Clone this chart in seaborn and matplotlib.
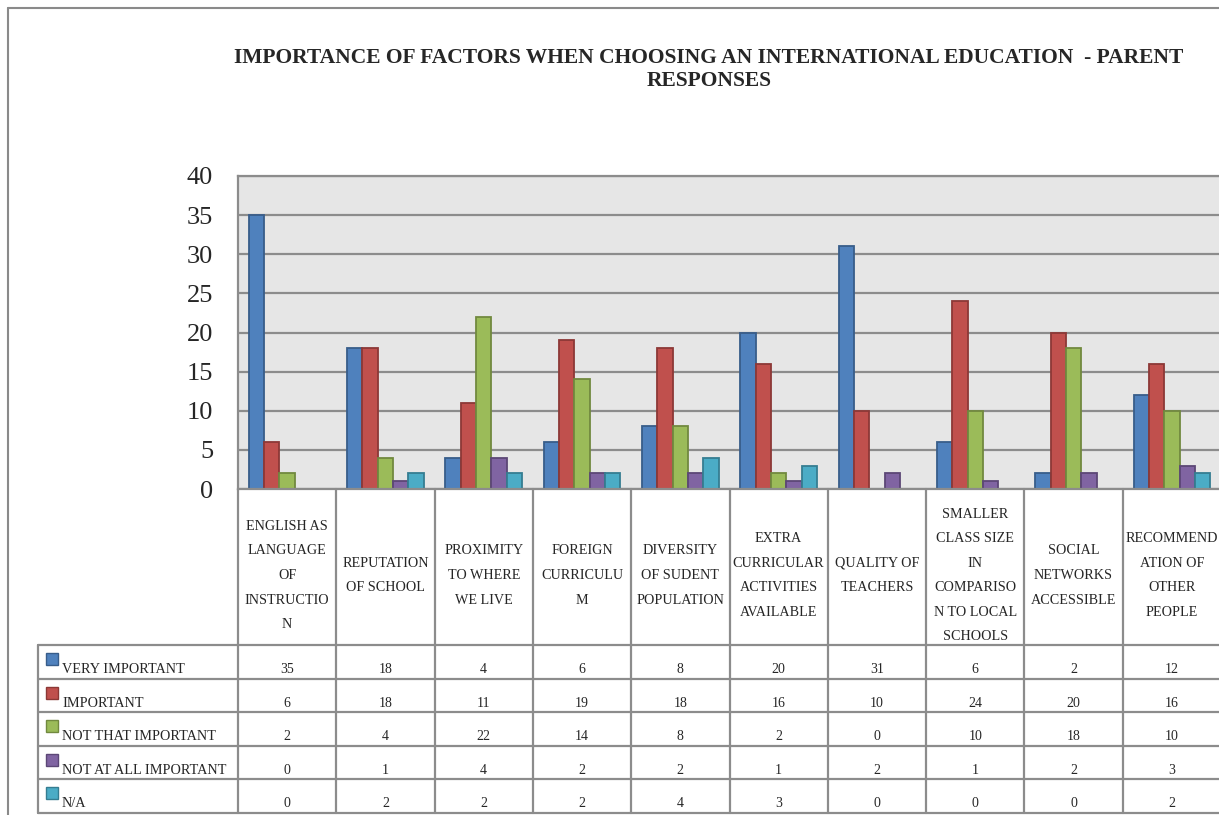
import pandas as pd
import matplotlib.pyplot as plt
import seaborn as sns

# chart data
factors = [
    "ENGLISH AS\nLANGUAGE\nOF\nINSTRUCTIO\nN",
    "REPUTATION\nOF SCHOOL",
    "PROXIMITY\nTO WHERE\nWE LIVE",
    "FOREIGN\nCURRICULU\nM",
    "DIVERSITY\nOF SUDENT\nPOPULATION",
    "EXTRA\nCURRICULAR\nACTIVITIES\nAVAILABLE",
    "QUALITY OF\nTEACHERS",
    "SMALLER\nCLASS SIZE\nIN\nCOMPARISO\nN TO LOCAL\nSCHOOLS",
    "SOCIAL\nNETWORKS\nACCESSIBLE",
    "RECOMMEND\nATION OF\nOTHER\nPEOPLE",
]
series = ["VERY IMPORTANT", "IMPORTANT", "NOT THAT IMPORTANT",
          "NOT AT ALL IMPORTANT", "N/A"]
very_important = [35, 18, 4, 6, 8, 20, 31, 6, 2, 12]
important = [6, 18, 11, 19, 18, 16, 10, 24, 20, 16]
not_that_important = [2, 4, 22, 14, 8, 2, 0, 10, 18, 10]
not_at_all_important = [0, 1, 4, 2, 2, 1, 2, 1, 2, 3]
not_applicable = [0, 2, 2, 2, 4, 3, 0, 0, 0, 2]

title = "IMPORTANCE OF FACTORS WHEN CHOOSING AN INTERNATIONAL EDUCATION  - PARENT\nRESPONSES"

fills = ["#4F81BD", "#C0504D", "#9BBB59", "#8064A2", "#4BACC6"]
edges = ["#385D8A", "#8C3836", "#71893F", "#5C4776", "#357D91"]
GRID = "#8c8c8c"
SERIF = ["Liberation Serif", "DejaVu Serif"]


def build_frame():
    values = [very_important, important, not_that_important,
              not_at_all_important, not_applicable]
    rows = []
    for name, vals in zip(series, values):
        for f, v in zip(factors, vals):
            rows.append({"factor": f, "series": name, "count": v})
    return pd.DataFrame(rows), values


def main():
    sns.set_style("white")
    plt.rcParams["font.family"] = SERIF

    df, values = build_frame()
    W, H = 1219, 815
    fig = plt.figure(figsize=(W / 100, H / 100), dpi=100)

    # outer chart border (cropped on right/bottom)
    fig.add_artist(plt.Line2D([8 / W, 1], [1 - 8 / H, 1 - 8 / H],
                              color="#8a8a8a", lw=1.5))
    fig.add_artist(plt.Line2D([8 / W, 8 / W], [0, 1 - 8 / H],
                              color="#8a8a8a", lw=1.5))

    fig.text(709 / W, 1 - 69.5 / H, title, ha="center", va="center",
             fontsize=15.5, fontweight="bold", linespacing=1.15,
             family=SERIF)

    # plot area
    left, right, top, bottom = 238, 1221, 176, 489
    ax = fig.add_axes([left / W, 1 - bottom / H, (right - left) / W,
                       (bottom - top) / H])
    sns.barplot(data=df, x="factor", y="count", hue="series",
                hue_order=series, order=factors, palette=fills,
                width=0.78, saturation=1, ax=ax, legend=False)
    for cont, ec in zip(ax.containers, edges):
        for p in cont:
            if p.get_height() == 0:
                p.set_visible(False)
            p.set_edgecolor(ec)
            p.set_linewidth(1.3)

    ax.set_facecolor("#E6E6E6")
    ax.set_xlim(-0.5, len(factors) - 0.5)
    ax.set_ylim(0, 40)
    ax.set_yticks(range(0, 41, 5))
    ax.set_yticklabels([str(v) for v in range(0, 41, 5)], fontsize=19)
    ax.tick_params(axis="y", length=0, pad=18)
    ax.set_xticks([])
    ax.set_xlabel("")
    ax.set_ylabel("")
    ax.yaxis.grid(True, color=GRID, lw=1.6)
    ax.set_axisbelow(True)
    for s in ax.spines.values():
        s.set_color(GRID)
        s.set_linewidth(1.6)
    ax.spines["right"].set_visible(False)

    # data table
    tleft, tbottom = 38, 813
    cat_w = (right - left) / len(factors)
    x0 = -0.5 - (left - tleft) / cat_w
    tab = fig.add_axes([tleft / W, 1 - tbottom / H, (right - tleft) / W,
                        (tbottom - bottom) / H])
    tab.set_xlim(x0, len(factors) - 0.5)
    hdr = 645 - bottom
    row_h = (tbottom - 645) / len(series)
    tab.set_ylim(hdr + row_h * len(series), 0)
    tab.axis("off")
    lw = 1.6
    n = len(factors)
    for i in range(n + 1):
        tab.plot([i - 0.5, i - 0.5], [0, hdr + row_h * len(series)],
                 color=GRID, lw=lw, clip_on=False)
    tab.plot([x0, x0], [hdr, hdr + row_h * len(series)], color=GRID, lw=lw,
             clip_on=False)
    for k in range(len(series) + 1):
        y = hdr + k * row_h
        tab.plot([x0, n - 0.5], [y, y], color=GRID, lw=lw, clip_on=False)

    for i, f in enumerate(factors):
        tab.text(i, hdr / 2 + 8.5, f, ha="center", va="center", fontsize=10.2,
                 linespacing=2.15, multialignment="center")

    sq_w = 12 / cat_w
    for k, (name, vals) in enumerate(zip(series, values)):
        y = hdr + k * row_h
        tab.add_patch(plt.Rectangle((x0 + 8 / cat_w, y + 8), sq_w, 12,
                                    facecolor=fills[k], edgecolor=edges[k],
                                    lw=1))
        tab.text(x0 + 24 / cat_w, y + 28, name, ha="left", va="baseline",
                 fontsize=10.3)
        for i, v in enumerate(vals):
            tab.text(i, y + 28, str(v), ha="center", va="baseline",
                     fontsize=10)

    fig.savefig("out.png", dpi=100)
    plt.close(fig)


if __name__ == "__main__":
    main()
